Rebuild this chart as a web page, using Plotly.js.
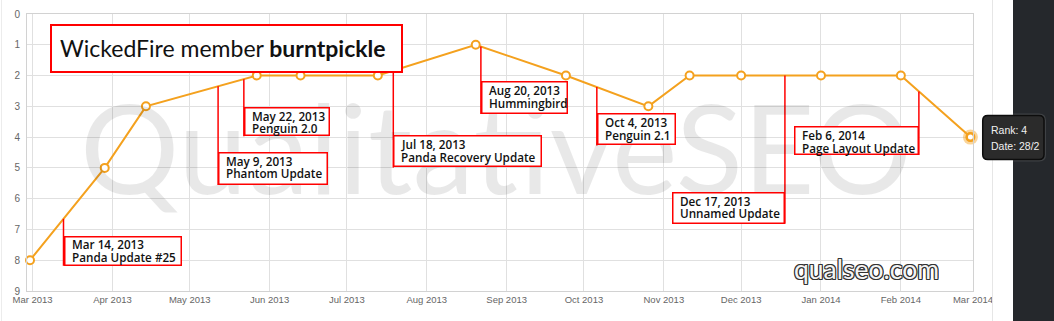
<!DOCTYPE html>
<html><head><meta charset="utf-8">
<script src="https://cdn.plot.ly/plotly-3.0.1.min.js"></script>
<style>html,body{margin:0;padding:0;background:#fff;overflow:hidden}#chart{width:1054px;height:321px}</style>
</head><body><div id="chart"></div>
<script>
// ---- data ----
const dates = ["2013-02-28","2013-03-29","2013-04-14","2013-05-27","2013-06-13","2013-07-13","2013-08-20","2013-09-24","2013-10-26","2013-11-11","2013-12-01","2014-01-01","2014-02-01","2014-02-28"];
const ranks = [8,5,3,2,2,2,1,2,3,2,2,2,2,4];
const eventDates = ["2013-03-13","2013-05-12","2013-05-22","2013-07-19","2013-08-22","2013-10-06","2013-12-18","2014-02-08"];
const eventTitles = ["Mar 14, 2013","May 9, 2013","May 22, 2013","Jul 18, 2013","Aug 20, 2013","Oct 4, 2013","Dec 17, 2013","Feb 6, 2014"];
const eventNames = ["Panda Update #25","Phantom Update","Penguin 2.0","Panda Recovery Update","Hummingbird","Penguin 2.1","Unnamed Update","Page Layout Update"];
const titleRegular = "WickedFire member ";
const titleBold = "burntpickle";
const watermarkText = "QualitativeSEO";
const siteText = "qualseo.com";
const rankLabel = "Rank: ";
const dateLabel = "Date: ";

// ---- layout config (positions / styles) ----
const xRange = ["2013-02-26 20:00", "2014-03-01"];
const boxLayout = [
  {side:'left',  top:16.7,  bottom:47,    w:118},
  {side:'left',  top:65.8,  bottom:98.8,  w:110},
  {side:'left',  top:27.8,  bottom:57.2,  w:86},
  {side:'left',  top:64.6,  bottom:96.9,  w:149},
  {side:'left',  top:34.8,  bottom:67.5,  w:87},
  {side:'left',  top:26.3,  bottom:58.3,  w:79},
  {side:'right', top:116.3, bottom:148.3, w:113},
  {side:'right', top:34.9,  bottom:63.5,  w:125}
];
const ORANGE = '#f4a11e';
const RED = '#ff0000';
const FONT = 'Lato, "Open Sans", sans-serif';
const EVFONT = '"Open Sans", Lato, sans-serif';

function ms(s){ return Date.parse(s.replace(' ', 'T') + (s.length > 10 ? ':00Z' : 'T00:00:00Z')); }
function rankAt(d){
  const t = ms(d);
  for (let i = 0; i < dates.length - 1; i++){
    const a = ms(dates[i]), b = ms(dates[i+1]);
    if (t >= a && t <= b) return ranks[i] + (ranks[i+1] - ranks[i]) * (t - a) / (b - a);
  }
  return ranks[ranks.length - 1];
}

const traces = [
  {x: dates, y: ranks, type: 'scatter', mode: 'lines+markers', cliponaxis: false,
   line: {color: ORANGE, width: 2},
   marker: {size: 8, color: '#fff', line: {color: ORANGE, width: 2}}},
  {x: [dates[dates.length-1]], y: [ranks[ranks.length-1]], type: 'scatter', mode: 'markers', cliponaxis: false,
   marker: {size: 15, color: 'rgba(244,161,30,0.45)', line: {width: 0}}},
  {x: [dates[dates.length-1]], y: [ranks[ranks.length-1]], type: 'scatter', mode: 'markers', cliponaxis: false,
   marker: {size: 7, color: '#fff', line: {color: ORANGE, width: 2}}}
];

const shapes = [];
const annotations = [];

// container decoration
shapes.push({type:'rect', xref:'paper', yref:'paper', xsizemode:'pixel', ysizemode:'pixel', xanchor:1, yanchor:0,
  x0:40, x1:120, y0:-60, y1:400, fillcolor:'#25282c', line:{width:0}, layer:'above'});
shapes.push({type:'line', xref:'paper', yref:'paper', xsizemode:'pixel', ysizemode:'pixel', xanchor:1, yanchor:0,
  x0:19.5, x1:19.5, y0:-60, y1:400, line:{color:'#e6e6e6', width:1}});
shapes.push({type:'line', xref:'paper', yref:'paper', xsizemode:'pixel', ysizemode:'pixel', xanchor:0, yanchor:0,
  x0:-25.5, x1:-25.5, y0:-60, y1:400, line:{color:'#ececec', width:1}});

// watermark
annotations.push({xref:'paper', yref:'paper', x:0, xshift:469, xanchor:'center', y:0, yshift:145, yanchor:'middle',
  text: watermarkText, showarrow:false, font:{family:FONT, size:124, color:'rgba(0,0,0,0.09)'}});

// title box
annotations.push({xref:'paper', yref:'paper', x:0, xshift:23, xanchor:'left', y:1, yshift:-10, yanchor:'top',
  text:' ', showarrow:false, width:349, height:45, borderwidth:2, borderpad:0, bordercolor:RED, bgcolor:'#fff'});
annotations.push({xref:'paper', yref:'paper', x:0, xshift:31, xanchor:'left', y:1, yshift:-34, yanchor:'middle',
  text: titleRegular + '<b>' + titleBold + '</b>', showarrow:false, font:{family:FONT, size:23, color:'#111'}});

// events
eventDates.forEach((d, i) => {
  const b = boxLayout[i];
  const r = rankAt(d);
  shapes.push({type:'line', xref:'x', yref:'y', x0:d, x1:d, ysizemode:'pixel', yanchor:r, y0:0, y1:-b.bottom,
    line:{color:RED, width:1.5}});
  annotations.push({xref:'x', yref:'y', x:d, y:r, xanchor:b.side, yanchor:'top', yshift:-b.top,
    text:' ', showarrow:false, width:b.w-3, height:(b.bottom-b.top)-3, borderwidth:1.5, borderpad:0,
    bordercolor:RED, bgcolor:'#fff'});
  const xs = b.side === 'left' ? 6 : -b.w + 6;
  annotations.push({xref:'x', yref:'y', x:d, y:r, xanchor:'left', yanchor:'middle', xshift:xs, yshift:-(b.top+8.8),
    text:eventTitles[i], showarrow:false, font:{family:EVFONT, size:11.7, color:'#111', weight:600}});
  annotations.push({xref:'x', yref:'y', x:d, y:r, xanchor:'left', yanchor:'middle', xshift:xs, yshift:-(b.top+21.2),
    text:eventNames[i], showarrow:false, font:{family:EVFONT, size:11.7, color:'#111', weight:600}});
});

// site label
annotations.push({xref:'paper', yref:'paper', x:0, xshift:839, xanchor:'center', y:0, yshift:22, yanchor:'middle',
  text: siteText, showarrow:false,
  font:{family:FONT, size:26.5, color:'#f4f4f4',
        shadow:'-1px -1px 0 #333, 1px -1px 0 #333, -1px 1px 0 #333, 1px 1px 0 #333, 0 1px 0 #333, 0 -1px 0 #333, 1px 0 0 #333, -1px 0 0 #333'}});

// tooltip at the last point
const li = dates.length - 1;
const xf = (ms(dates[li]) - ms(xRange[0])) / (ms(xRange[1]) - ms(xRange[0]));
const yf = (9 - ranks[li]) / 9;
function rr(x0, x1, yt, yb, r){
  return `M${x0+r},${yt} L${x1-r},${yt} Q${x1},${yt} ${x1},${yt-r} L${x1},${yb+r} Q${x1},${yb} ${x1-r},${yb} L${x0+r},${yb} Q${x0},${yb} ${x0},${yb+r} L${x0},${yt-r} Q${x0},${yt} ${x0+r},${yt} Z`;
}
shapes.push({type:'path', xref:'paper', yref:'paper', xsizemode:'pixel', ysizemode:'pixel', xanchor:xf, yanchor:yf,
  path: rr(10.3, 75.6, 23.5, -24.5, 7), fillcolor:'rgba(255,255,255,0.12)', line:{width:0}, layer:'above'});
shapes.push({type:'path', xref:'paper', yref:'paper', xsizemode:'pixel', ysizemode:'pixel', xanchor:xf, yanchor:yf,
  path: rr(12.3, 73.6, 21.5, -22.5, 5), fillcolor:'#2b2b2b', line:{color:'#0d0d0d', width:1.5}, layer:'above'});
const dparts = dates[li].split('-');
const tipDate = parseInt(dparts[2], 10) + '/' + parseInt(dparts[1], 10);
annotations.push({xref:'x', yref:'y', x:dates[li], y:ranks[li], xanchor:'left', yanchor:'middle', xshift:18.5, yshift:7.5,
  text: rankLabel + ranks[li], showarrow:false, font:{family:'"Liberation Sans", Arial, sans-serif', size:10.5, color:'#f0f0f0'}});
annotations.push({xref:'x', yref:'y', x:dates[li], y:ranks[li], xanchor:'left', yanchor:'middle', xshift:18.5, yshift:-8.5,
  text: dateLabel + tipDate, showarrow:false, font:{family:'"Liberation Sans", Arial, sans-serif', size:10.5, color:'#f0f0f0'}});

const layout = {
  width:1054, height:321,
  margin:{l:27, r:81, t:14, b:30, pad:0},
  paper_bgcolor:'#fff', plot_bgcolor:'#fff',
  showlegend:false, hovermode:false,
  xaxis:{type:'date', range:xRange, tick0:'2013-03-01', dtick:'M1', tickformat:'%b %Y',
    showgrid:true, gridcolor:'#e0e0e0', gridwidth:1, zeroline:false,
    showline:true, linecolor:'#d2d2d2', linewidth:1, mirror:true, ticks:'',
    tickfont:{family:'"Liberation Sans", Arial, sans-serif', size:9.5, color:'#666'}, fixedrange:true},
  yaxis:{range:[9,0], tick0:0, dtick:1, showgrid:true, gridcolor:'#e0e0e0', gridwidth:1, zeroline:false,
    showline:true, linecolor:'#d2d2d2', linewidth:1, mirror:true, ticks:'', ticklabelstandoff:4,
    tickfont:{family:'"Liberation Sans", Arial, sans-serif', size:10, color:'#666'}, fixedrange:true},
  shapes: shapes,
  annotations: annotations
};

Plotly.newPlot('chart', traces, layout, {displayModeBar:false, staticPlot:true});
</script>
</body></html>
